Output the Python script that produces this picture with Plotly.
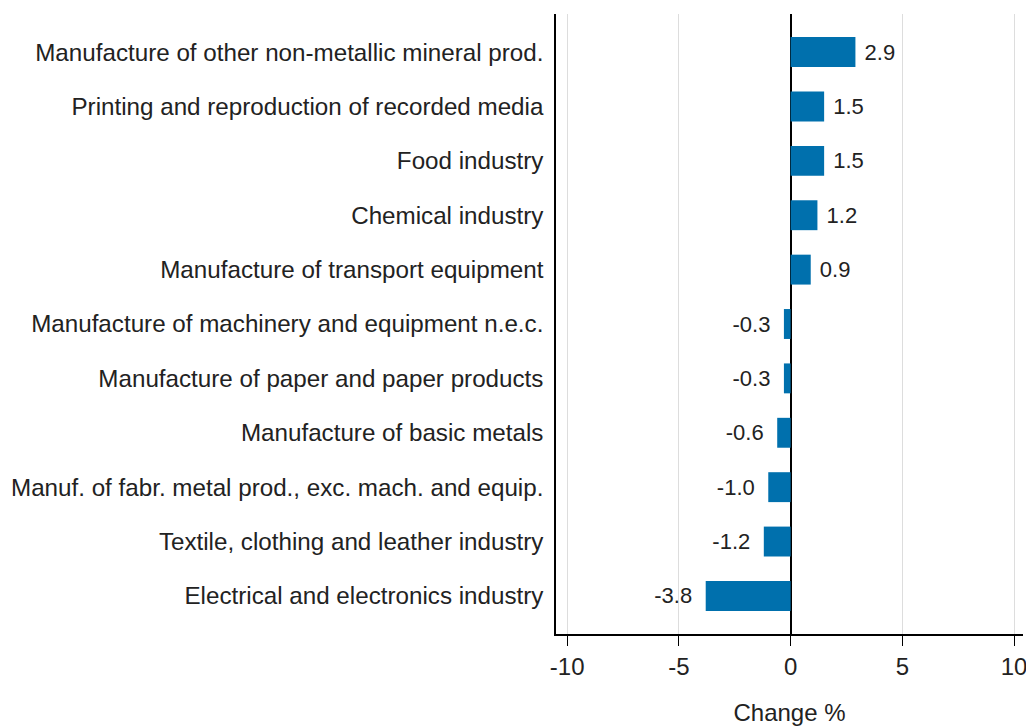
import plotly.graph_objects as go

categories = [
    "Manufacture of other non-metallic mineral prod.",
    "Printing and reproduction of recorded media",
    "Food industry",
    "Chemical industry",
    "Manufacture of transport equipment",
    "Manufacture of machinery and equipment n.e.c.",
    "Manufacture of paper and paper products",
    "Manufacture of basic metals",
    "Manuf. of fabr. metal prod., exc. mach. and equip.",
    "Textile, clothing and leather industry",
    "Electrical and electronics industry",
]
values = [2.9, 1.5, 1.5, 1.2, 0.9, -0.3, -0.3, -0.6, -1.0, -1.2, -3.8]
x_ticks = [-10, -5, 0, 5, 10]

font_family = "Liberation Sans, Arial, sans-serif"
text_color = "#222222"

labels = [
    ("\u00a0" + f"{v:.1f}") if v >= 0 else (f"{v:.1f}" + "\u00a0\u2009")
    for v in values
]

fig = go.Figure(
    go.Bar(
        x=values,
        y=categories,
        orientation="h",
        width=0.55,
        marker=dict(color="#0070AD", line=dict(width=0)),
        text=labels,
        textposition="outside",
        textfont=dict(size=22, color=text_color, family=font_family),
        cliponaxis=False,
        hoverinfo="skip",
    )
)

fig.update_layout(
    width=1036,
    height=727,
    margin=dict(l=556, r=13, t=14, b=93),
    paper_bgcolor="white",
    plot_bgcolor="white",
    showlegend=False,
    font=dict(family=font_family, color=text_color),
)

fig.update_xaxes(
    range=[-10.5, 10.4],
    tickvals=x_ticks,
    ticktext=[str(t) for t in x_ticks],
    tickfont=dict(size=24, color=text_color),
    showgrid=True,
    gridcolor="#dddddd",
    gridwidth=1,
    zeroline=True,
    zerolinecolor="black",
    zerolinewidth=1.5,
    showline=True,
    linecolor="black",
    linewidth=1.5,
    ticks="outside",
    ticklen=10,
    tickcolor="black",
    automargin=False,
    title=dict(text="Change %", font=dict(size=24, color=text_color), standoff=26),
)

fig.update_yaxes(
    autorange=False,
    range=[10.7, -0.7],
    categoryorder="array",
    categoryarray=categories,
    tickfont=dict(size=24.2, color=text_color),
    showgrid=False,
    showline=True,
    linecolor="black",
    linewidth=1.5,
    ticks="",
    ticklabelstandoff=6,
    automargin=False,
)

fig.write_html(
    "out.html",
    config={"displayModeBar": False},
    post_script="document.body.style.margin='0';document.body.style.overflow='hidden';",
)
